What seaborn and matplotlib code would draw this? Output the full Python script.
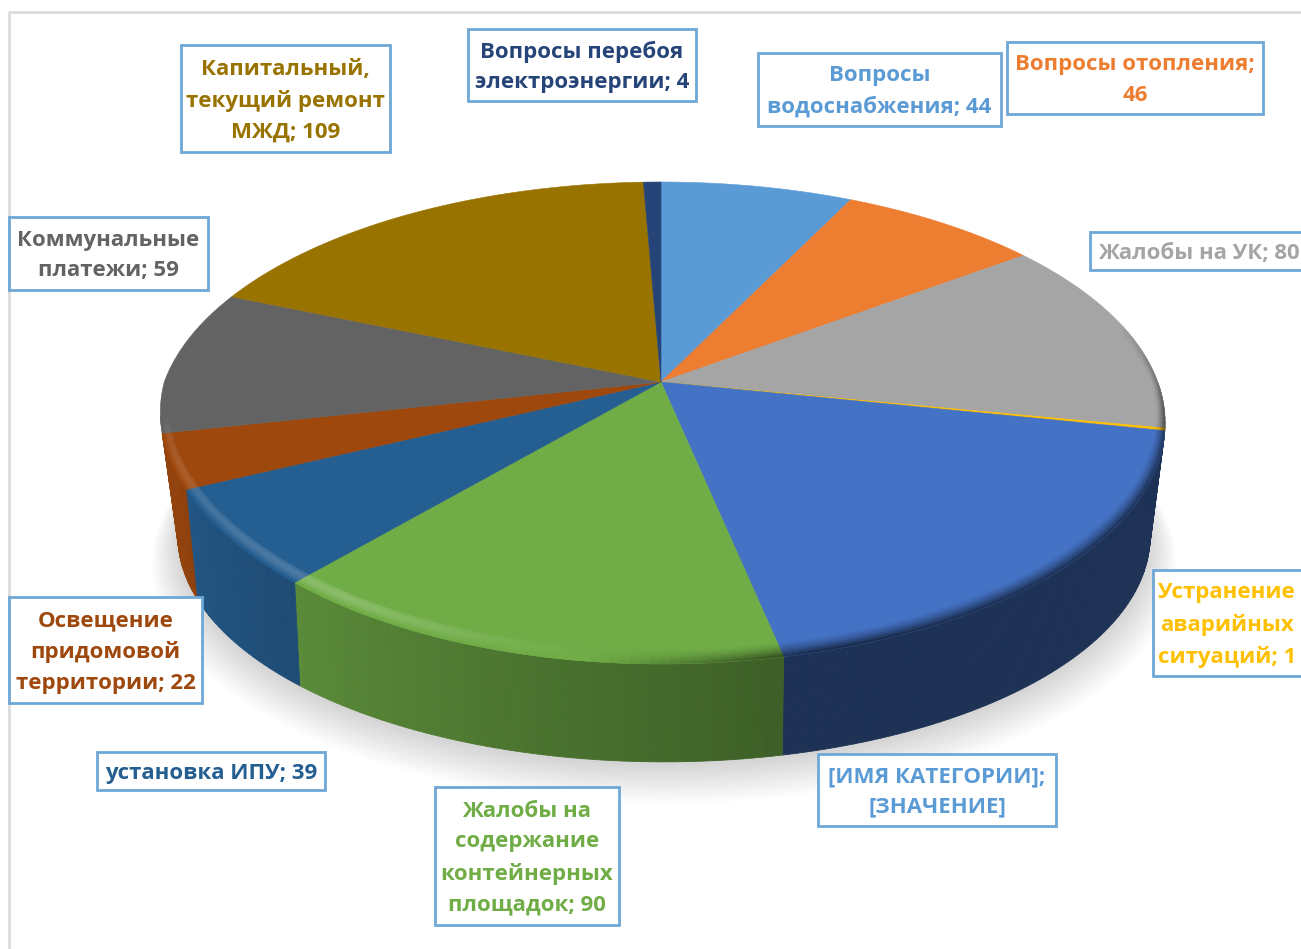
import numpy as np
import seaborn as sns
import matplotlib.pyplot as plt
from matplotlib.patches import Rectangle

# values, clockwise from 12 o'clock
# (the unnamed slice shows no number, 112 is estimated from its angle)
categories = ['Вопросы водоснабжения', 'Вопросы отопления', 'Жалобы на УК',
              'Устранение аварийных ситуаций', '[ИМЯ КАТЕГОРИИ]',
              'Жалобы на содержание контейнерных площадок', 'установка ИПУ',
              'Освещение придомовой территории', 'Коммунальные платежи',
              'Капитальный, текущий ремонт МЖД', 'Вопросы перебоя электроэнергии']
values = [44, 46, 80, 1, 112, 90, 39, 22, 59, 109, 4]
slice_colors = ['#5b9bd5', '#ed7d31', '#a5a5a5', '#ffc000', '#4472c4', '#70ad47',
                '#255e91', '#9e480e', '#636363', '#997300', '#264478']
label_colors = ['#5b9bd5', '#ed7d31', '#a5a5a5', '#ffc000', '#5b9bd5', '#70ad47',
                '#255e91', '#9e480e', '#636363', '#997300', '#264478']
label_texts = ['Вопросы\nводоснабжения; 44', 'Вопросы отопления;\n46', 'Жалобы на УК; 80',
               'Устранение\nаварийных\nситуаций; 1', '[ИМЯ КАТЕГОРИИ];\n[ЗНАЧЕНИЕ]',
               'Жалобы на\nсодержание\nконтейнерных\nплощадок; 90', 'установка ИПУ; 39',
               'Освещение\nпридомовой\nтерритории; 22', 'Коммунальные\nплатежи; 59',
               'Капитальный,\nтекущий ремонт\nМЖД; 109', 'Вопросы перебоя\nэлектроэнергии; 4']

# label boxes in pixels: left, top, right, bottom
label_boxes = [(758, 53, 1001, 126), (1007, 42, 1263, 114), (1090, 232, 1320, 270),
               (1153, 570, 1320, 676), (818, 754, 1056, 826), (435, 787, 619, 925),
               (97, 752, 325, 790), (9, 597, 202, 703), (9, 217, 208, 290),
               (181, 45, 390, 152), (468, 29, 696, 101)]
BOX_COLOR = '#6fa8d6'

# perspective of the disc
KV = -0.17
TOP = dict(cx=661, y0=382, cu=496.7, bv=234, trim=0.03)
BOTTOM = dict(cx=664, y0=498, cu=479, bv=219, trim=0.0)
WALL_SLICES = range(2, 8)  # slices whose side wall can be seen


def project(theta, r, level):
    # theta in degrees clockwise from the top of the disc
    t = np.radians(theta)
    u = r * np.sin(t)
    v = -r * np.cos(t)
    w = 1 + KV * v
    # the reference disc is a little narrower on the front left
    squeeze = np.where((u < 0) & (v > 0), 1 - level['trim'] * np.minimum(1.5 * v, 1), 1.0)
    return level['cx'] + level['cu'] * u * squeeze / w, level['y0'] + level['bv'] * v / w


def side_shade(theta):
    return np.interp(theta, [90, 168.1, 168.2, 221, 244, 262], [0.44, 0.44, 0.55, 0.8, 0.9, 0.95])


def bevel_amount(theta):
    # +1 light edge on the front left, -1 dark edge on the front right
    return np.interp(theta, [75, 98, 165, 185, 215, 245, 257, 262],
                     [0, -0.8, -1, -0.1, 1, 0.7, 0.5, 0])


def blend(color, other, amount):
    return tuple((1 - amount) * np.array(color) + amount * np.array(other))


sns.set_theme(style='white')
plt.rcParams['font.family'] = ['Open Sans', 'DejaVu Sans']
palette = sns.color_palette(slice_colors)

fig = plt.figure(figsize=(13.01, 9.49), dpi=100)
ax = fig.add_axes([0, 0, 1, 1])
ax.set_xlim(0, 1301)
ax.set_ylim(949, 0)
ax.axis('off')

# frame of the chart area
ax.plot([9, 9, 1301], [949, 12, 12], color='#dcdcdc', lw=2)

# soft shadow below the disc
full = np.linspace(0, 360, 241)
for i in range(14):
    sx, sy = project(full, 1 + 0.004 * i, BOTTOM)
    ax.fill(sx, sy + 1.6 * i + 4, color='#000000', alpha=0.012, lw=0, zorder=1)

edges = np.concatenate([[0], np.cumsum(values)]) / np.sum(values) * 360

# side wall
for idx in WALL_SLICES:
    start, stop, color = edges[idx], edges[idx + 1], palette[idx]
    steps = np.arange(start, stop + 1, 1.0)
    steps[-1] = stop
    for a, b in zip(steps[:-1], steps[1:]):
        if (a + b) / 2 < 90:
            continue
        ring = np.array([a, b])
        x1, y1 = project(ring, 1, TOP)
        x2, y2 = project(ring[::-1], 1, BOTTOM)
        shade = blend(color, (0, 0, 0), 1 - side_shade((a + b) / 2))
        ax.fill(np.r_[x1, x2], np.r_[y1, y2], color=shade, lw=0.6, zorder=2)

# top face
for start, stop, color in zip(edges[:-1], edges[1:], palette):
    arc = np.linspace(start, stop, max(int(stop - start) * 2, 2))
    x, y = project(arc, 1, TOP)
    ax.fill(np.r_[TOP['cx'], x], np.r_[TOP['y0'], y], color=color, lw=0.4, zorder=3)

# bevel along the rim
n_rings = 6
for start, stop, color in zip(edges[:-1], edges[1:], palette):
    steps = np.arange(start, stop + 1, 1.0)
    steps[-1] = stop
    for a, b in zip(steps[:-1], steps[1:]):
        mid = (a + b) / 2
        amount = bevel_amount(mid)
        if amount == 0:
            continue
        width = 0.012 + 0.03 * abs(np.cos(np.radians(mid)))
        rings = np.linspace(1 - width, 1.0, n_rings + 1)
        ring = np.array([a, b])
        for j in range(n_rings):
            pos = (j + 1) / n_rings
            if amount > 0:
                # light stripe that peaks inside the band, then falls into the side colour
                strength = 0.2 * amount * np.sin(np.pi * pos ** 0.8)
                shade = blend(color, (1, 1, 1), strength)
            else:
                strength = -amount * pos ** 1.5 * 0.6
                shade = blend(color, (0, 0, 0), strength)
            x1, y1 = project(ring, rings[j], TOP)
            x2, y2 = project(ring[::-1], rings[j + 1], TOP)
            ax.fill(np.r_[x1, x2], np.r_[y1, y2], color=shade, lw=0.3, zorder=4)

# data labels
for text, box, color in zip(label_texts, label_boxes, label_colors):
    left, top, right, bottom = box
    ax.add_patch(Rectangle((left, top), right - left, bottom - top, facecolor='white',
                           edgecolor=BOX_COLOR, lw=2, zorder=5))
    if text.startswith('Жалобы на УК'):
        ax.text(left + 8, (top + bottom) / 2 + 2, text, color=color, fontsize=16, fontweight='bold',
                ha='left', va='center', zorder=6)
    else:
        right_edge = min(right, 1301)
        ax.text((left + right_edge) / 2, (top + bottom) / 2 + 2, text, color=color, fontsize=16,
                fontweight='bold', ha='center', va='center', linespacing=1.6, zorder=6)

fig.savefig('out.png', dpi=100)
